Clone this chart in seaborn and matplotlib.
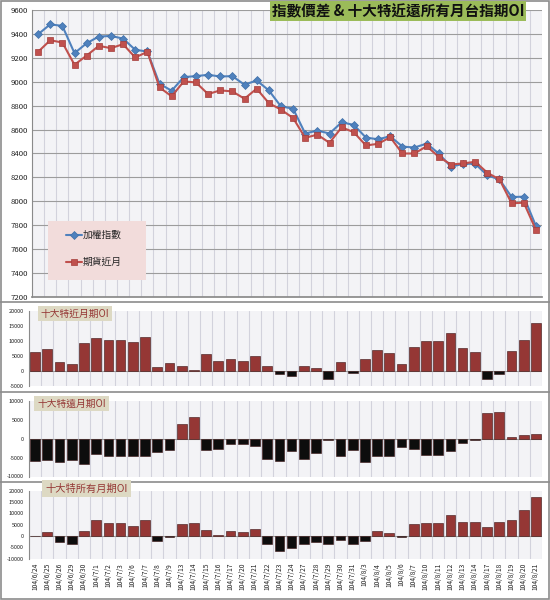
import numpy as np
import pandas as pd
import matplotlib
matplotlib.use("Agg")
import matplotlib.pyplot as plt
from matplotlib.patches import Rectangle
from matplotlib.lines import Line2D
import seaborn as sns

# ---------------- data ----------------
dates = ['104/6/24', '104/6/25', '104/6/26', '104/6/29', '104/6/30',
         '104/7/1', '104/7/2', '104/7/3', '104/7/6', '104/7/7', '104/7/8', '104/7/9',
         '104/7/13', '104/7/14', '104/7/15', '104/7/16', '104/7/17',
         '104/7/20', '104/7/21', '104/7/22', '104/7/23', '104/7/24',
         '104/7/27', '104/7/28', '104/7/29', '104/7/30', '104/7/31',
         '104/8/3', '104/8/4', '104/8/5', '104/8/6', '104/8/7',
         '104/8/10', '104/8/11', '104/8/12', '104/8/13', '104/8/14',
         '104/8/17', '104/8/18', '104/8/19', '104/8/20', '104/8/21']

index_vals = [9397, 9480, 9467, 9239, 9322, 9378, 9383, 9361, 9267, 9253, 8983, 8925,
              9039, 9047, 9058, 9044, 9047, 8975, 9011, 8928, 8794, 8775,
              8567, 8592, 8567, 8661, 8639, 8533, 8519, 8544, 8458, 8450,
              8483, 8400, 8289, 8314, 8314, 8217, 8183, 8036, 8039, 7794]

futures_vals = [9250, 9347, 9328, 9142, 9219, 9300, 9281, 9314, 9203, 9250, 8953, 8878,
                9003, 8994, 8897, 8928, 8919, 8858, 8942, 8822, 8767, 8697,
                8531, 8558, 8489, 8619, 8578, 8467, 8481, 8536, 8400, 8400,
                8461, 8372, 8308, 8317, 8331, 8239, 8183, 7983, 7989, 7761]

near_oi = [6200, 7200, 2900, 2100, 9400, 10800, 10300, 10300, 9500, 11400, 1200, 2600,
           1600, 200, 5600, 3200, 4000, 3200, 5100, 1600, -1000, -1800,
           1500, 1000, -2800, 2900, -700, 3800, 6800, 6000, 2100, 7800,
           9900, 9900, 12500, 7600, 6300, -2800, -1100, 6500, 10300, 16000]

far_oi = [-6000, -5500, -6250, -5700, -6800, -4000, -4550, -4550, -4550, -4550, -3500, -3000,
          3800, 5800, -3000, -2800, -1500, -1500, -2000, -5400, -5800, -3300,
          -5400, -3750, -450, -4700, -3100, -6250, -4700, -4700, -2200, -2800,
          -4300, -4300, -3300, -1100, -200, 6900, 7100, 450, 1000, 1250]

all_oi = [200, 1800, -2800, -3600, 2400, 6900, 5700, 5700, 4600, 6900, -2200, -400,
          5200, 5700, 2800, 300, 2400, 1800, 3100, -3700, -6600, -5100,
          -3700, -2500, -3300, -1800, -3600, -2200, 2100, 1300, -400, 5100,
          5800, 5800, 9100, 6400, 6100, 3900, 6100, 6900, 11600, 17000]

title = '指數價差 & 十大特近遠所有月台指期OI'
series_labels = ['加權指數', '期貨近月']
panel_labels = ['十大特近月期OI', '十大特遠月期OI', '十大特所有月期OI']

# ---------------- style ----------------
sns.set_theme(style='white')
plt.rcParams['font.family'] = ['Noto Sans CJK TC', 'DejaVu Sans']

W, H = 550, 600
fig = plt.figure(figsize=(W / 100, H / 100), dpi=100)
fig.patch.set_facecolor('white')


def rect(l, t, r, b):
    return [l / W, 1 - b / H, (r - l) / W, (b - t) / H]


n = len(dates)
pos = np.arange(n)
BG = '#f3f3f6'
VGRID = '#d2d2dc'


def common(ax):
    ax.set_facecolor(BG)
    ax.set_xlim(-0.5, n - 0.5)
    ax.set_xticks(np.arange(-0.5, n, 1.0), minor=True)
    ax.grid(True, which='minor', axis='x', color=VGRID, lw=0.8)
    ax.tick_params(axis='x', which='minor', length=0)
    for s in ['top', 'right']:
        ax.spines[s].set_visible(False)
    ax.spines['left'].set_color('#8a8a8a')
    ax.spines['left'].set_linewidth(0.8)
    ax.set_xlabel('')
    ax.set_ylabel('')
    ax.set_axisbelow(True)


# ---------------- top line chart ----------------
ax0 = fig.add_axes(rect(32, 10, 542, 297))
df = pd.DataFrame({'pos': pos, 'idx': index_vals, 'fut': futures_vals})
sns.lineplot(data=df, x='pos', y='idx', ax=ax0, color='#4f81bd', lw=1.5,
             marker='D', markersize=3.8, markeredgecolor='#3f6fa8', markeredgewidth=0.5,
             label=series_labels[0], zorder=3)
sns.lineplot(data=df, x='pos', y='fut', ax=ax0, color='#c0504d', lw=1.5,
             marker='s', markersize=4.5, markeredgecolor='#a33c39', markeredgewidth=0.5,
             label=series_labels[1], zorder=3)
common(ax0)
ax0.set_ylim(7200, 9600)
yt = list(range(7200, 9601, 200))
ax0.set_yticks(yt)
ax0.set_yticklabels([str(v) for v in yt], fontsize=5.6, color='#222222')
ax0.set_xticks([])
ax0.grid(True, which='major', axis='y', color='#9c9c9c', lw=0.8)
ax0.spines['bottom'].set_color('#8a8a8a')
ax0.tick_params(axis='y', length=0, pad=3)

# legend box
ax0.add_patch(Rectangle(((48 - 32) / 510, (297 - 280) / 287), 98 / 510, 59 / 287,
                        transform=ax0.transAxes, fc='#f2dcdb', ec='none', zorder=4))
ax0.legend(loc='upper left', bbox_to_anchor=((66 - 32) / 510, (297 - 230) / 287),
           frameon=False, fontsize=7, labelspacing=1.75, borderpad=0, borderaxespad=0,
           handlelength=1.6, handletextpad=0.1)

# title
fig.text(398 / W, 1 - 11 / H, title, ha='center', va='center', fontsize=10.5,
         fontweight='bold', color='#111111',
         bbox=dict(boxstyle='square,pad=0.12', fc='#9bbb59', ec='none'))


# ---------------- bar panels ----------------
def bar_panel(box, vals, ylim, ticks, label, label_xy, label_fs, show_x=False):
    ax = fig.add_axes(rect(*box))
    colors = ['#953735' if v >= 0 else '#0d0d0d' for v in vals]
    dfb = pd.DataFrame({'date': dates, 'v': vals})
    sns.barplot(data=dfb, x='date', y='v', hue='date', palette=colors, legend=False,
                ax=ax, width=0.8, saturation=1, edgecolor='#3a1212', linewidth=0.4,
                zorder=3)
    common(ax)
    ax.set_ylim(*ylim)
    ax.set_yticks(ticks)
    ax.set_yticklabels([str(t) for t in ticks], fontsize=4, color='#222222')
    ax.tick_params(axis='y', length=2, width=0.6, color='#8a8a8a', pad=2)
    ax.axhline(0, color='#9a9a9a', lw=0.8, zorder=2)
    ax.spines['bottom'].set_visible(False)
    if show_x:
        ax.set_xticks(pos)
        ax.set_xticklabels(dates, rotation=90, fontsize=4.8, color='#222222')
        ax.tick_params(axis='x', which='major', length=0, pad=3)
    else:
        ax.tick_params(axis='x', which='major', labelbottom=False, length=0)
    fig.text(label_xy[0] / W, 1 - label_xy[1] / H, label, ha='center', va='center',
             fontsize=label_fs, color='#953735',
             bbox=dict(boxstyle='square,pad=0.3', fc='#ddd9c3', ec='none'))
    return ax


bar_panel((29, 311, 542, 385.7), near_oi, (-5000, 20000),
          [-5000, 0, 5000, 10000, 15000, 20000], panel_labels[0], (75, 313.5), 7)
bar_panel((29, 401, 542, 476.5), far_oi, (-10000, 10000),
          [-10000, -5000, 0, 5000, 10000], panel_labels[1], (71.5, 403.5), 7)
bar_panel((29, 490.7, 542, 558.7), all_oi, (-10000, 20000),
          [-10000, -5000, 0, 5000, 10000, 15000, 20000], panel_labels[2], (86.5, 488.5), 7.4,
          show_x=True)

# separators and frame
for yy in [302, 392, 482]:
    fig.add_artist(Line2D([0, 1], [1 - yy / H, 1 - yy / H], transform=fig.transFigure,
                          color='#8c8c8c', lw=1.2))
fig.add_artist(Rectangle((0.001, 0.002), 0.997, 0.996, transform=fig.transFigure,
                         fc='none', ec='#8c8c8c', lw=1.2))

fig.savefig('out.png', dpi=100)
